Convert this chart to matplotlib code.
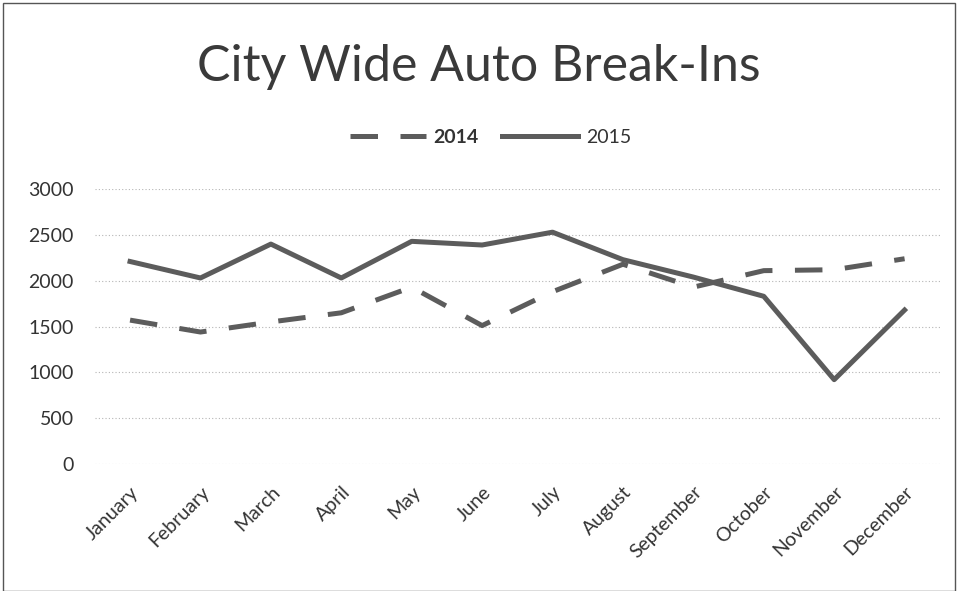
import matplotlib.pyplot as plt
from matplotlib.patches import Rectangle

# Data
months = ['January', 'February', 'March', 'April', 'May', 'June', 'July',
          'August', 'September', 'October', 'November', 'December']
breakins_2014 = [1570, 1440, 1550, 1650, 1930, 1510, 1880, 2180, 1930, 2110, 2120, 2240]
breakins_2015 = [2210, 2030, 2400, 2030, 2430, 2390, 2530, 2230, 2040, 1830, 920, 1680]
y_ticks = [0, 500, 1000, 1500, 2000, 2500, 3000]

plt.rcParams['font.family'] = ['Lato', 'DejaVu Sans']

fig = plt.figure(figsize=(9.58, 5.91), dpi=100)
ax = fig.add_axes([0.099, 0.215, 0.882, 0.465])

line_color = '#5c5c5c'
x = range(len(months))
ax.plot(x, breakins_2014, color=line_color, lw=3.6, dashes=(5.5, 4.5), label='2014')
ax.plot(x, breakins_2015, color=line_color, lw=3.6, label='2015')

ax.set_xlim(-0.5, len(months) - 0.5)
ax.set_ylim(0, 3000)
ax.set_yticks(y_ticks)
ax.set_xticks(list(x))
ax.set_xticklabels(months, rotation=45, ha='right', rotation_mode='anchor',
                   fontsize=14, color='#333333')
ax.tick_params(axis='y', labelsize=14, labelcolor='#333333', length=0, pad=15)
ax.tick_params(axis='x', length=0, pad=14)

ax.grid(axis='y', color='#b5b5b5', lw=0.8, linestyle=(0, (1, 2)))
ax.set_axisbelow(True)
for s in ax.spines.values():
    s.set_visible(False)

fig.text(0.5, 0.887, 'City Wide Auto Break-Ins', ha='center', va='center',
         fontsize=36, color='#3a3a3a')

leg = fig.legend(loc='center', bbox_to_anchor=(0.512, 0.768), ncol=2, frameon=False,
                 fontsize=14, handlelength=3.9, columnspacing=1.2, handletextpad=0.4)
leg.get_texts()[0].set_fontweight('bold')
for t in leg.get_texts():
    t.set_color('#333333')

# thin border around the whole chart
fig.patches.append(Rectangle((0.003, 0.0), 0.994, 0.995, transform=fig.transFigure,
                             fill=False, edgecolor='#555555', lw=1.0))

fig.savefig('out.png', dpi=100)
